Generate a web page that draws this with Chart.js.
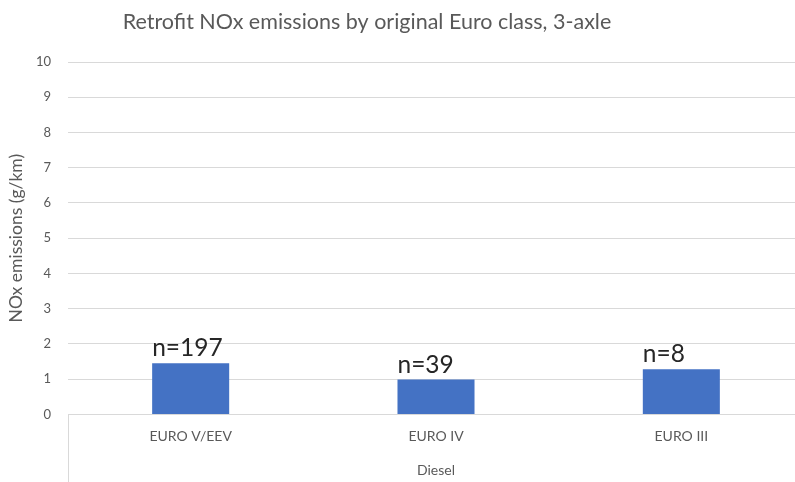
<!DOCTYPE html>
<html>
<head>
<meta charset="utf-8">
<script src="https://cdn.jsdelivr.net/npm/chart.js@4"></script>
<style>
  html, body { margin: 0; padding: 0; background: #fff; overflow: hidden; }
  #wrap { width: 806px; height: 482px; }
</style>
</head>
<body>
<div id="wrap"><canvas id="chart"></canvas></div>
<script>
const categories = ["EURO V/EEV", "EURO IV", "EURO III"];
const noxValues = [1.45, 0.99, 1.28];
const sampleLabels = ["n=197", "n=39", "n=8"];
const yTicks = [0, 1, 2, 3, 4, 5, 6, 7, 8, 9, 10];
const groupLabel = "Diesel";
const chartTitle = "Retrofit NOx emissions by original Euro class, 3-axle";

const grey = "#595959";
const gridGrey = "#d9d9d9";

// title sits a little left of centre, as in the original
const titlePlugin = {
  id: "offsetTitle",
  afterDraw(chart) {
    const ctx = chart.ctx;
    ctx.save();
    ctx.font = "21.5px Lato";
    ctx.fillStyle = grey;
    ctx.textAlign = "center";
    ctx.textBaseline = "middle";
    ctx.fillText(chartTitle, 367, 22);
    ctx.restore();
  },
};

// n= labels, left aligned on each bar
const sampleLabelPlugin = {
  id: "sampleLabels",
  afterDatasetsDraw(chart) {
    const ctx = chart.ctx;
    const meta = chart.getDatasetMeta(0);
    ctx.save();
    ctx.font = "24.5px Lato";
    ctx.fillStyle = "#262626";
    ctx.textAlign = "left";
    ctx.textBaseline = "alphabetic";
    meta.data.forEach((bar, i) => {
      ctx.fillText(sampleLabels[i], bar.x - bar.width / 2, bar.y - 7);
    });
    ctx.restore();
  },
};

// vertical box lines of the category group below the axis
const groupBoxPlugin = {
  id: "groupBox",
  afterDraw(chart) {
    const ctx = chart.ctx;
    const area = chart.chartArea;
    ctx.save();
    ctx.strokeStyle = gridGrey;
    ctx.lineWidth = 1;
    ctx.beginPath();
    [area.left, area.right].forEach((x) => {
      ctx.moveTo(Math.round(x) + 0.5, area.bottom);
      ctx.lineTo(Math.round(x) + 0.5, chart.height);
    });
    ctx.stroke();
    ctx.restore();
  },
};

new Chart(document.getElementById("chart"), {
  type: "bar",
  data: {
    labels: categories,
    datasets: [
      {
        label: "NOx",
        data: noxValues,
        backgroundColor: "#4472C4",
        categoryPercentage: 1,
        barPercentage: 0.314,
      },
    ],
  },
  options: {
    responsive: true,
    maintainAspectRatio: false,
    animation: false,
    layout: { padding: { top: 62, right: 2, left: 6, bottom: 0 } },
    plugins: {
      legend: { display: false },
      tooltip: { enabled: false },
      title: { display: false },
    },
    scales: {
      x: {
        grid: { display: false, drawTicks: false },
        border: { display: true, color: gridGrey, width: 1 },
        ticks: {
          color: grey,
          font: { family: "Lato", size: 14 },
          padding: 14,
          maxRotation: 0,
        },
        title: {
          display: true,
          text: groupLabel,
          color: grey,
          font: { family: "Lato", size: 14 },
          padding: { top: 3, bottom: 3 },
        },
      },
      y: {
        min: 0,
        max: 10,
        afterBuildTicks(scale) {
          scale.ticks = yTicks.map((v) => ({ value: v }));
        },
        afterFit(scale) {
          scale.width = 62;
        },
        grid: { color: gridGrey, drawTicks: false },
        border: { display: false },
        ticks: {
          color: grey,
          font: { family: "Lato", size: 13 },
          padding: 17,
        },
        title: {
          display: true,
          text: "NOx emissions (g/km)",
          color: grey,
          font: { family: "Lato", size: 17.5 },
          padding: { top: 0, bottom: 0 },
        },
      },
    },
  },
  plugins: [sampleLabelPlugin, groupBoxPlugin, titlePlugin],
});
</script>
</body>
</html>
